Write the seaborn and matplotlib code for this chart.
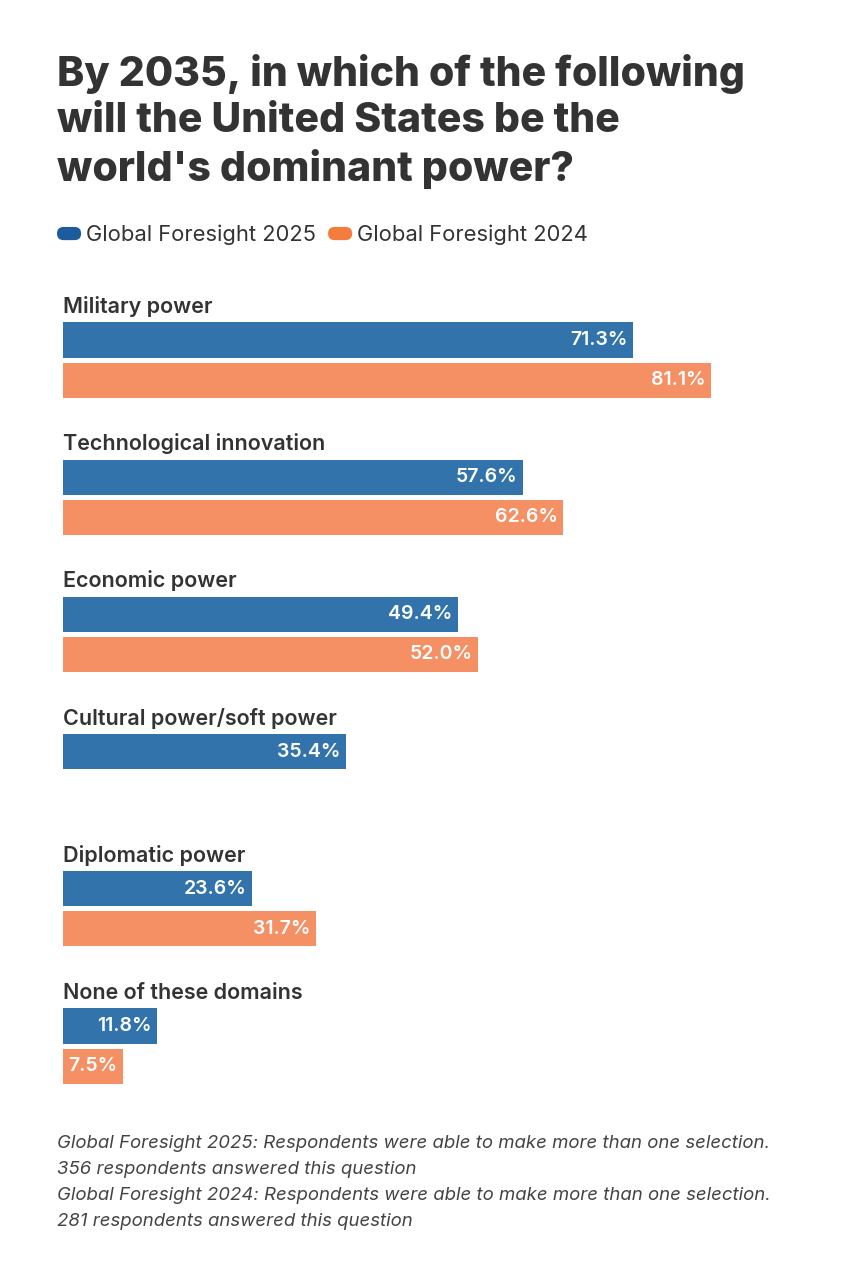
import numpy as np
import pandas as pd
import matplotlib
matplotlib.use("Agg")
import matplotlib.pyplot as plt
import seaborn as sns
from matplotlib.patches import FancyBboxPatch
from matplotlib.legend_handler import HandlerPatch

categories = ["Military power", "Technological innovation", "Economic power",
              "Cultural power/soft power", "Diplomatic power", "None of these domains"]
series = ["Global Foresight 2025", "Global Foresight 2024"]
v2025 = [71.3, 57.6, 49.4, 35.4, 23.6, 11.8]
v2024 = [81.1, 62.6, 52.0, np.nan, 31.7, 7.5]

bar_colors = ["#3273ab", "#f59065"]
legend_colors = ["#1c5c9c", "#f47c3e"]
text_dark = "#333333"

sns.set_theme(style="white")
plt.rcParams["font.family"] = ["Inter", "DejaVu Sans"]

df = pd.DataFrame({
    "category": categories * 2,
    "series": [series[0]] * len(categories) + [series[1]] * len(categories),
    "value": v2025 + v2024,
})

fig = plt.figure(figsize=(8.45, 12.8), dpi=100)
ax = fig.add_axes([63 / 845, 1 - 1095 / 1280, (800 - 63) / 845, (1095 - 285) / 1280])

sns.barplot(data=df, y="category", x="value", hue="series", order=categories,
            hue_order=series, palette=bar_colors, orient="h", width=0.584,
            gap=0.125, dodge=True, legend=False, ax=ax, saturation=1, linewidth=0)

ax.set_xlim(0, (800 - 63) / 7.99)
ax.set_ylim(5.357, -0.547)
ax.set_xlabel("")
ax.set_ylabel("")
ax.set_xticks([])
ax.set_yticks([])
for s in ax.spines.values():
    s.set_visible(False)

# value labels
for p in ax.patches:
    w = p.get_width()
    if not np.isfinite(w) or w <= 0:
        continue
    yc = p.get_y() + p.get_height() / 2
    ax.annotate(f"{w:.1f}%", xy=(w, yc), xytext=(-4, 0), textcoords="offset points",
                ha="right", va="center", color="white", fontsize=14,
                fontweight="semibold")

# category labels
for i, c in enumerate(categories):
    ax.annotate(c, xy=(0, i), xytext=(0, 38.5), textcoords="offset points",
                ha="left", va="center", color=text_dark, fontsize=15.5,
                fontweight="semibold")

# title
fig.text(57 / 845, 1 - 54 / 1280,
         "By 2035, in which of the following\nwill the United States be the\nworld's dominant power?",
         ha="left", va="top", fontsize=29.5, fontweight="heavy", color=text_dark,
         linespacing=1.27)


class RoundHandler(HandlerPatch):
    def create_artists(self, legend, orig_handle, xdescent, ydescent, width, height, fontsize, trans):
        p = FancyBboxPatch((-xdescent, -ydescent + height * 0.05), width, height * 0.9,
                           boxstyle=f"round,pad=0,rounding_size={height*0.45}",
                           facecolor=orig_handle.get_facecolor(), edgecolor="none",
                           transform=trans)
        return [p]


handles = [FancyBboxPatch((0, 0), 1, 1, facecolor=c) for c in legend_colors]
leg = fig.legend(handles, series, loc="center left", bbox_to_anchor=(57 / 845, 1 - 235 / 1280),
                 ncol=2, frameon=False, fontsize=15.8, handlelength=1.1, handleheight=0.65,
                 handletextpad=0.22, columnspacing=0.55, borderpad=0, borderaxespad=0,
                 handler_map={FancyBboxPatch: RoundHandler()})
for t in leg.get_texts():
    t.set_color(text_dark)

# footnote
foot = ("Global Foresight 2025: Respondents were able to make more than one selection.\n"
        "356 respondents answered this question\n"
        "Global Foresight 2024: Respondents were able to make more than one selection.\n"
        "281 respondents answered this question")
fig.text(57 / 845, 1 - 1135 / 1280, foot, ha="left", va="top", fontsize=13.4,
         style="italic", color="#444444", linespacing=1.7)

fig.savefig("out.png", dpi=100, facecolor="white")
